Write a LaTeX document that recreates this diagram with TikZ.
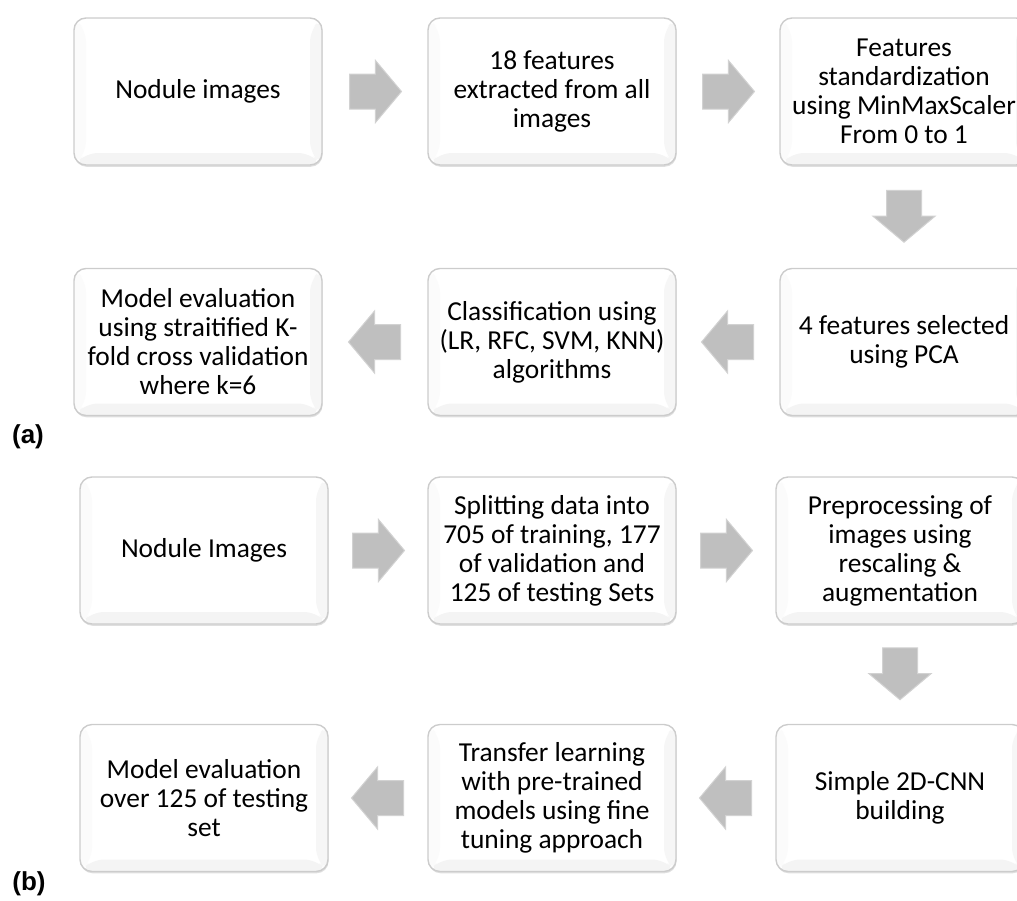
\documentclass[tikz,border=0pt]{standalone}
\usepackage{fontspec}
\setmainfont{Carlito}
\newfontfamily\panelfont{Liberation Sans}
\usetikzlibrary{shapes.arrows,calc,positioning,shadows}

\begin{document}
\begin{tikzpicture}[x=0.5pt,y=-0.5pt,
  stepbox/.style={draw=gray!40,line width=0.7pt,fill=white,rounded corners=6pt,
    minimum width=124pt,minimum height=73.5pt,align=center,inner xsep=1pt,
    font=\fontsize{13.7}{14.5}\selectfont,
    drop shadow={shadow xshift=0.3pt,shadow yshift=-0.9pt,opacity=0.25},
    path picture={
      \fill[gray!9] (path picture bounding box.south west) -- ++(6pt,6pt)
        -- ([shift={(-6pt,6pt)}]path picture bounding box.south east)
        -- (path picture bounding box.south east) -- cycle;
      \fill[gray!7] (path picture bounding box.south east) -- ++(-6pt,6pt)
        -- ([shift={(-6pt,-6pt)}]path picture bounding box.north east)
        -- (path picture bounding box.north east) -- cycle;
      \fill[gray!3] (path picture bounding box.south west) -- ++(6pt,6pt)
        -- ([shift={(6pt,-6pt)}]path picture bounding box.north west)
        -- (path picture bounding box.north west) -- cycle;
    }},
  rarrow/.style={single arrow,fill=gray!50,draw=gray!35,line width=0.5pt,
    minimum height=26pt,inner xsep=0pt,inner ysep=8.5pt,single arrow head extend=6.75pt,
    single arrow tip angle=100,anchor=tail},
  larrow/.style={rarrow,shape border rotate=180},
  darrow/.style={rarrow,shape border rotate=270,inner xsep=8.5pt,inner ysep=0pt},
  panel/.style={font=\panelfont\fontsize{13}{15}\bfseries\selectfont}
]
\useasboundingbox (0,0) rectangle (1017,900);
\clip (0,0) rectangle (1017,900);
% (a) machine learning pipeline
\node[stepbox] (a1) at (198,91.5) {Nodule images};
\node[stepbox] (a2) at (552,91.5) {18 features\\extracted from all\\images};
\node[stepbox] (a3) at (904,91.5) {Features\\standardization\\using MinMaxScaler\\From 0 to 1};
\node[stepbox] (a4) at (904,342) {4 features selected\\using PCA};
\node[stepbox] (a5) at (552,342) {Classification using\\(LR, RFC, SVM, KNN)\\algorithms};
\node[stepbox] (a6) at (198,342) {Model evaluation\\using straitified K-\\fold cross validation\\where k=6};
\node[rarrow] (a12) at ($(a1.east)!0.5!(a2.west)+(-26,0)$) {};
\node[rarrow] (a23) at ($(a2.east)!0.5!(a3.west)+(-26,0)$) {};
\node[darrow] (a34) at ($(a3.south)!0.5!(a4.north)+(0,-27)$) {};
\node[larrow] (a45) at ($(a4.west)!0.5!(a5.east)+(26,0)$) {};
\node[larrow] (a56) at ($(a5.west)!0.5!(a6.east)+(26,0)$) {};
\node[panel] (pa) at (28,437) {(a)};
% (b) deep learning pipeline
\node[stepbox] (b1) at (204,550.5) {Nodule Images};
\node[stepbox] (b2) at (552,550.5) {Splitting data into\\705 of training, 177\\of validation and\\125 of testing Sets};
\node[stepbox] (b3) at (900,550.5) {Preprocessing of\\images using\\rescaling \&\\augmentation};
\node[stepbox] (b4) at (900,798) {Simple 2D-CNN\\building};
\node[stepbox] (b5) at (552,798) {Transfer learning\\with pre-trained\\models using fine\\tuning approach};
\node[stepbox] (b6) at (204,798) {Model evaluation\\over 125 of testing\\set};
\node[rarrow] (b12) at ($(b1.east)!0.5!(b2.west)+(-26,0)$) {};
\node[rarrow] (b23) at ($(b2.east)!0.5!(b3.west)+(-26,0)$) {};
\node[darrow] (b34) at ($(b3.south)!0.5!(b4.north)+(0,-27)$) {};
\node[larrow] (b45) at ($(b4.west)!0.5!(b5.east)+(26,0)$) {};
\node[larrow] (b56) at ($(b5.west)!0.5!(b6.east)+(26,0)$) {};
\node[panel] (pb) at (29,884) {(b)};
\end{tikzpicture}
\end{document}
